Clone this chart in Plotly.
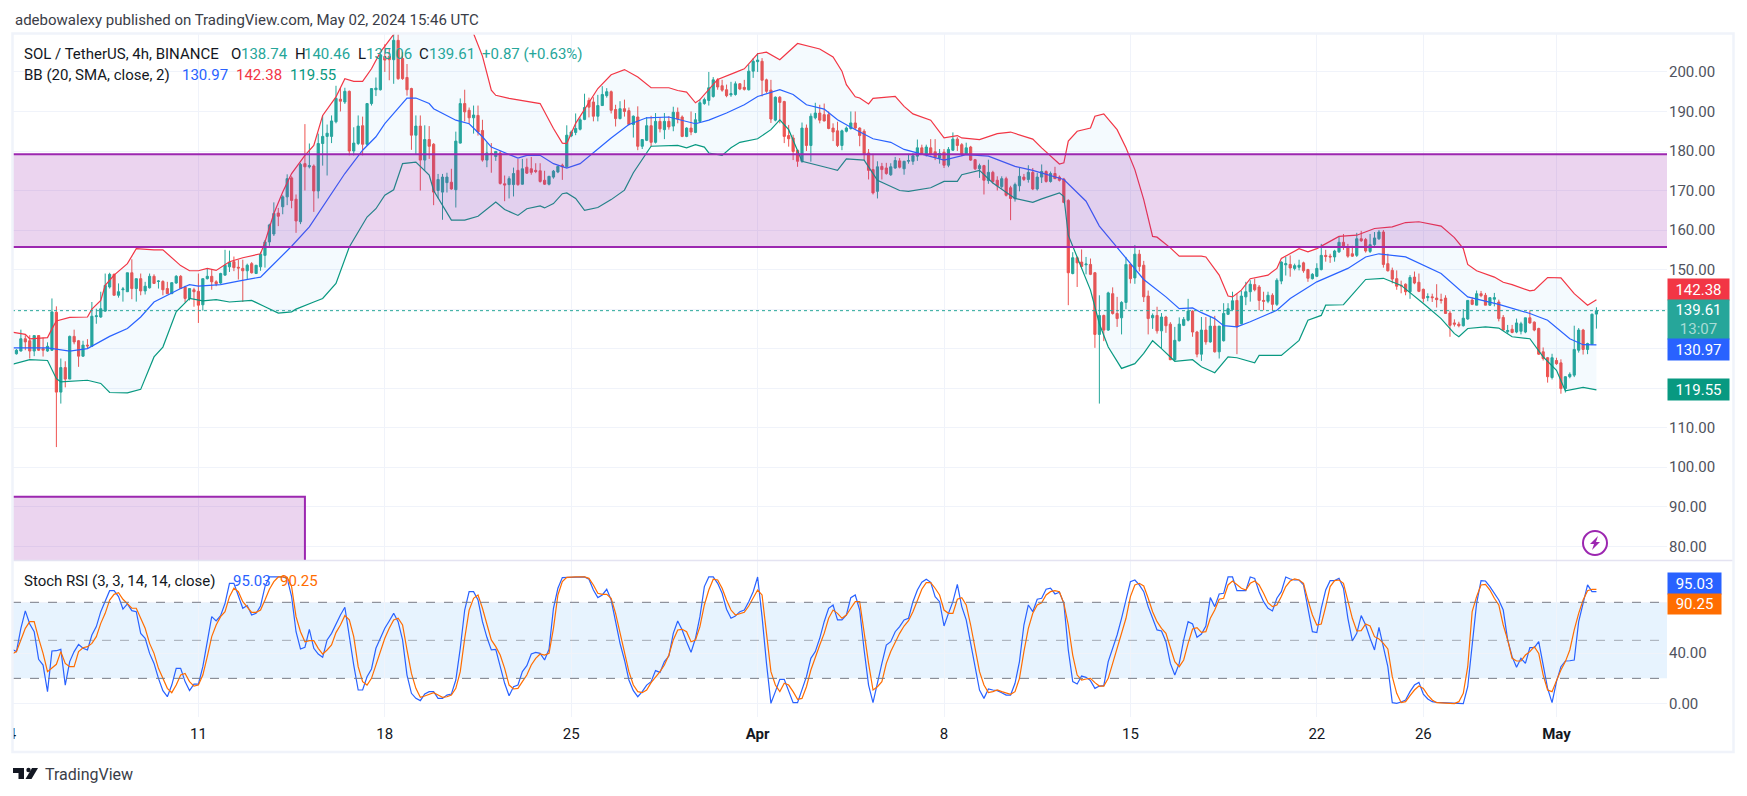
import pandas as pd
import plotly.graph_objects as go

opens = [130,128.7,129.4,132.5,132,129.4,133.3,130,129.4,129.6,
139.2,119,125.2,122.3,133.1,132,128.1,130.9,130.6,138.1,
138,139.5,145.6,148.8,143.5,144.9,144.4,149.2,145.2,147.7,
144.6,145.4,148.3,147,147,145.2,143.9,146.6,148.3,145.6,
142.7,144.9,144.5,141.1,147.7,148.3,146.9,146.6,148.6,150.7,
152,150.6,150.3,149.7,151.5,149,150.7,153.6,157,159,
164.3,165.9,168.4,173.2,167.8,162.1,176.8,176,176.2,169.9,
181.9,183.7,183.7,187.4,193.1,192.4,195.1,180,181.9,186.4,
181.7,192,195.5,195.5,203.9,203.9,203.1,208,203.4,198.6,
195.8,184,186.3,177.7,182.9,181.7,170,169.6,172,172.1,
170.2,182,192,190.3,188.4,189,185.2,177.7,179.4,178.6,
179.5,171.7,171.5,171.5,175.1,171.6,175.9,175.5,175.1,175,
172.6,171.6,173.4,174.7,176.4,176,183.8,184.7,185.5,188,
192.8,192.4,188.8,191.5,194,195,190.5,188.2,190.7,190.2,
186.7,188.6,181.2,182.7,186.4,182.2,187.5,185.4,187.5,186.3,
189.8,188.6,183.7,185.8,184.7,187.5,192,192.8,193.8,198,
196.5,195.5,194.2,194.3,197,196.1,195.5,200.2,202.6,202.7,
198,195.4,187.8,193.6,192.5,183.9,183.3,180.2,177.4,185.8,
181.4,188.4,189.6,189.2,189.2,185.8,185.1,181.4,185,185.7,
187.1,185.8,185,179.5,175.3,169.8,176.1,175.7,174,175.7,
177.5,175.5,177.4,177.4,178.7,180.8,179.1,180.8,179.8,178.2,
179.7,176.4,180.2,183,181.6,179.3,181,177.8,175.5,176.3,
172.5,174.6,172.6,171,173,170.7,167.9,171.2,173.4,172.8,
174.6,170.4,173.4,174.8,172.3,174.3,173.4,172.9,167.5,149,
153,151.9,151.2,151.3,149.2,133.6,138.4,134.7,143.9,138.9,
137.8,141.7,151.3,147.9,153.9,151.1,143.3,137.8,138.4,134.5,
138,136.2,127.2,132,135.9,137.2,139.5,134.2,128.6,134.7,
131.7,135.7,129.2,132,138.7,139.9,142.2,136.3,143.1,144.4,
146.2,145.6,142.2,142,143.5,141.2,147.1,151.2,151.3,150.3,
150.6,151.7,150,147.7,148.3,150,153.6,153.4,153.2,154.5,
156.9,155.6,154,153.6,157.8,157.6,154.6,156.3,157.8,159.5,
151.5,149.8,147.7,146,146.3,144.4,148.1,146.8,145,142.9,
143.1,142.8,142.4,142.8,139,136.5,136.2,135.8,137.5,142.3,
141,143.9,143.5,141,142.5,141.8,137.9,134.3,134.9,134.2,
134.4,134.2,137.8,136.7,135.1,129.2,127.7,122.7,127,126.4,
119.9,122.9,123.3,129.6,134.7,129.8,131.1,138.74]

highs = [130.5,129.9,134.8,133.4,133.4,133.3,133.4,132.8,131.6,142.7,
140.7,127.5,126.8,133.3,134.8,132.2,132,132.4,141.8,140.1,
144.4,149,149.2,149,146.5,145.6,149.2,152.6,147.7,149,
146.9,149,148.8,147.3,147.3,146.9,146.7,148.6,148.6,145.9,
145.2,145.4,149,147.7,150.3,150.1,147.3,149.2,155,154.8,
153.3,152.5,152.5,151.5,151.9,151.1,154.5,157.5,161.6,167,
165.6,168.8,174.1,173.6,169,177,186.8,181.9,176.6,184.4,
189,186.7,189,196.5,196,196,195.3,186,189,188.7,
192.1,195.9,198.6,204.6,207,206,209.6,209.8,205,202,
196,189,189,186.5,186.3,182,174.2,174.2,174.5,175.5,
184.9,193.3,195.5,191,191.5,191.5,187.9,182.2,182,180,
180,173.8,173.6,175.8,178,178,178.1,178.5,176.9,176.9,
175,173.7,175.2,176.3,176.8,186.5,185.2,189.5,188.5,194.5,
193.5,193.6,194.2,196.4,195.9,195.3,191.7,192.6,193,191,
189,191.3,183,188.6,188.9,189.6,188.6,189.6,188.8,191.2,
191,189,186,190,189.6,193.1,193.5,200,198.7,198.4,
198,196.8,197.5,197.6,197.2,198,201.9,203.5,204.8,203.5,
198.3,198,193.8,193.9,192.7,186.6,184.1,180.3,187.2,186.7,
189.5,192.2,191.7,192,190,187,187.4,185.4,186.2,190,
190,186,185.5,180.5,179.3,177.4,177,177,176.9,178.5,
178.2,177.5,179,179.5,182.9,181.6,181.6,183,183,180.5,
180.5,181,184.7,183.5,182,182.1,181.3,178,176.8,176.5,
177.8,175,173.6,173.6,173.5,171.2,172,175.7,174.2,176.4,
175.7,174.5,176.6,175.1,174.8,176,173.8,173.2,167.8,154.4,
153.3,155.1,153.2,152.8,149.4,143.5,138.6,144.4,145.5,143.1,
142,153.2,151.6,156.2,155,152.2,144.7,138.9,140.6,139,
138.3,136.7,135.5,137.9,138,142.6,139.7,134.5,138,138,
138,138.3,135.7,141.5,141.5,144.4,143.9,144.6,146.9,147.3,
147.7,146.1,144.4,144.4,144,147.8,152.1,153.2,153.6,151.5,
152.5,152,150.2,149.1,151.6,156.5,155,154,155,158.4,
159,156.5,156,159.3,159.8,158,159,159.5,160,160,
154,150.5,149.8,147.2,146.5,148.6,149.5,149,145.2,144,
143.9,146.3,143.9,143.5,139.6,137.4,136.8,140,142.3,143,
144.7,144.6,144.1,142.9,144.1,142.4,138.5,136,136,137.6,
136.8,137.8,139.7,136.9,135.3,130.3,127.9,128.7,127.7,127.3,
123,124,135.8,135.2,135,131.5,138.9,140.46]

lows = [129,128.5,129.3,129.6,127.5,128.1,129.4,128,129.2,129.4,
105.1,116.1,120.2,122.3,131.1,125.4,127.9,130,130.4,136.3,
137.8,139.3,145.2,143.5,142.9,141.9,144.4,142.5,141.9,143.5,
143.7,145.2,146.4,145.2,143.5,143.9,143.9,146.4,145.2,141.7,
142.2,140.6,136.5,139.6,147.5,144.9,145.8,146.4,148.4,149.4,
149.6,147.5,141.8,147.5,149,148.9,149.7,150.5,156,158.5,
161,164,166.3,165.5,159.3,161.5,170,175.6,164.6,168,
176.3,173.8,182,187,190,191.9,178.9,178.9,181.5,178.9,
181.3,191.5,193.9,195.3,200,197.9,197,198,198,194,
180.3,179,170,175,178,166.3,168,162.6,169.5,170.2,
165.7,181.9,187.5,186.9,184.4,183.9,177.3,175.9,174.5,177.5,
171.5,167.3,168,168.5,171.2,171.5,174.2,174,174.4,172,
171.4,171.3,173,174.4,172.7,175.8,183.5,184,185.2,187.8,
188.5,187.5,187.5,191.5,193.5,189.5,186.2,188,188.7,186.5,
183.4,180.2,180.5,182.5,181.2,181.9,184.7,183,185.4,185,
187,183.5,183.5,184,184.5,187.2,191.7,191.5,193.5,195.5,
195,193.6,193.7,194,195.4,195.3,195.3,198.5,200,193.8,
194.7,187.1,187.5,187,182,181.1,177.7,176,177,180,
177.3,188,187,187.5,185.5,182.5,181,180.2,184.7,185.4,
185.5,181.2,177.7,172.8,169,168,172.8,174,173.7,175.5,
175.6,174,176.8,176.5,177.5,179,178.6,178.9,177.7,176.8,
175.7,175.9,180,180,178.7,179,177.5,175.2,173.2,169,
171.7,171.8,170,170.5,168.5,162.5,167.2,169.8,172.4,172,
170.1,170,171.9,172,172,172.9,172.3,166.8,141,148.8,
145.6,150.6,148.8,148.6,130.2,116.1,131.9,134.5,138.6,135.5,
133.6,140,146.5,146.4,149.5,141.8,133.6,135,133.8,130,
134,127.1,126.9,131.8,135.7,136.9,133,127.8,126.9,131,
131.5,129,127.5,131.8,138.5,139.7,128.6,136.1,141,141.9,
144.5,139.7,139.7,141.5,139.6,140.8,146.3,148.5,148.2,149.8,
149.8,149.2,146.9,147.5,148.1,149.8,152,151.7,152,154.2,
155,153,153.2,153.2,157,154.3,154.2,156,157.5,150.5,
149.5,146.5,144.9,144,143.5,142.6,146.3,144.3,141.7,142,
141.8,140.4,141.4,138.8,133,135.6,135.4,135.6,137.3,141,
141,143,141,140.8,140.7,136.9,134.5,133.8,133.9,133.9,
133.6,133.9,136.3,134.4,128.4,127,121.4,122.2,125.9,118.6,
118.9,122.5,122.8,129,128.5,128.6,130.9,135.06]

closes = [129.6,129.6,132.5,131.7,129.4,133.3,129.6,129.6,130.6,139.3,
119,125.2,122.3,133.1,131.7,128.1,130.9,130.7,138.2,138.3,
140.1,146,148.8,143.5,144.4,145.1,149.2,145.2,147.7,144.6,
145.8,148.3,146.5,147.1,144.9,143.9,146.7,148.3,145.2,142.7,
145.2,144.4,141,147.7,148.3,146.9,146.4,149,151.1,151.8,
150.5,150.4,149.7,151.1,149.2,151.1,153.9,157,161.3,164.2,
163.5,168.4,173,167.5,162.3,176.6,176,176.3,169.9,181.9,
183.7,184.5,187.6,193.3,192.6,195.1,180,182,186.3,181.7,
192,195.8,195.9,204.2,203,203.1,208,198.3,198.3,195.5,
184,186.3,177.7,182.9,181.2,169.6,172.8,173.4,173.4,170.4,
182.5,192,189.9,188.4,189.1,184.8,177.7,179.5,179.2,179.9,
171.8,171.4,173,174.3,171.5,175.5,174.4,174.6,174.8,172.3,
171.6,173.6,174.9,176.1,176,184,184.8,185.7,187.9,191,
191.1,188.8,191.5,194.3,195,190.3,188.2,190.7,190,186.7,
188.8,181.2,182.9,186.4,182.2,187.5,185.6,187.5,186.1,189.8,
188.1,183.7,185.8,184.8,187.9,192.2,193,196,198,196.2,
195.4,194,194.5,197,195.7,195.6,200.2,202.7,203,197.9,
195.1,188.1,193.6,192.3,183.7,183.1,179.9,177.4,185.8,181.4,
188.8,189.6,187.8,187.6,185.7,184.8,181.4,185.1,185.8,187.1,
185.8,183.9,179.3,175.1,169.4,176,175.3,174.3,176,177.6,
175.9,177.4,177.6,178.8,180.8,179.3,181,179.1,178.4,179.4,
176.4,180.4,183,181.4,179.1,180.8,177.7,175.5,176.3,172.6,
174.6,172.3,171.2,173,168.8,168,171.5,173.6,172.8,174.6,
170.4,173.4,174.8,172.3,174.3,173,172.6,167,149.2,153,
151.7,150.8,151.4,148.8,133.6,138.4,134.7,144.1,138.9,137.6,
141.7,151.3,147.7,153.9,150.8,143.1,137.6,138.4,134.5,138,
135.8,127.2,132.1,136.2,137.4,139.5,134.2,128.6,134.7,131.7,
135.7,129.2,135.7,138.9,140.1,142.1,135.5,143.3,144.4,146.3,
144.9,142.2,142,143.5,141.2,147.3,151.9,151.5,150.4,151,
151.1,149.7,147.8,148.8,150.3,153.6,153.3,153.2,154.7,156.9,
155.6,153.4,153.4,157.8,157.3,154.7,156.3,158,159.5,151.3,
149.7,147.6,145.8,145.9,144.4,148,146.6,144.5,142.7,143.2,
142.9,142.4,142.2,138.9,135.9,136.2,135.8,137.7,142.2,141.2,
143.9,143.4,141,142.9,142.9,137.6,134.7,134.6,134.1,136.5,
136.3,137.8,136.5,134.7,128.6,127.5,122.9,127.7,126.2,119.9,
122.9,123.5,129.8,134.7,129.8,131.3,138.7,139.61]

upper_bar = [0,3,4,8,9,10,13,17,18,20,21,23,26,28,32,34,38,40,42,44,46,49,52,56,57,59,61,63,66,68,70,73,75,77,79,81,83,86,87,90,95,100,104,106,108,109,112,119,122,124,125,127,130,132,
135,138,141,144,148,150,152,154,155,159,163,165,168,170,173,177,182,185,187,188,190,191,193,194,199,201,203,207,210,213,214,218,222,225,230,232,236,237,238,240,243,244,246,249,251,253,255,257,258,261,263,268,
269,272,274,275,277,279,283,285,286,290,292,294,299,303,307,311,314,317,322,325,327,328,330,334,336,338,342,343,346,349,352,355,357]
upper_band = [134.2,133.6,132.5,132.8,135,137,137.9,138,140,142.2,146,148.6,151.5,155.3,155,155,151,149.7,149.7,150.3,149.8,152,153,154,157,164.2,169.6,174.3,178.9,181.4,189,193.7,198.3,197.6,197.6,200.8,205,209.7,211,214,216,214,209.7,204,195.4,194.1,193.3,192,185.7,182,181.9,187,192.4,195.8,
199.3,200.6,198.7,196,196,195.3,194.9,192.2,193,198.1,199.9,200.8,204.6,205,203.1,207.2,205.8,203.8,200.2,196.8,193.7,193.4,191.9,193.3,193.8,191.3,189.4,187.8,183.3,183.9,183.3,182.9,184.4,184.8,183,180.8,176.7,177,182.5,185,185.8,188.8,189.4,185.4,180.8,175.3,167.7,158.4,158.2,155.5,153.4,153.4,
153.2,148.6,143.3,143.1,144.8,147.7,148.6,150.3,152.8,155.3,154.5,155.3,158.4,158.7,160.4,160.8,161.9,162.1,161,158.1,155.3,151.3,149.7,148.1,146.8,146.2,144.6,144.8,148,147.9,143.9,141,142.38]

middle_bar = [0,8,13,17,22,26,29,32,38,40,42,47,51,56,57,62,63,67,70,75,79,82,84,89,91,94,95,100,103,106,108,114,116,119,122,125,128,132,
135,139,143,148,154,157,161,165,168,173,176,179,183,186,189,194,198,201,207,210,215,220,226,230,237,242,245,249,255,260,263,266,
268,271,273,276,279,285,288,294,301,305,308,314,322,328,335,342,346,351,354,357]
middle_band = [130.2,130.2,129.4,130,133.1,135.1,138,141.8,145.2,146.2,145.8,146.2,147.1,148.1,149.2,154.9,155.9,160.8,165.9,174.3,180.2,183.6,186.9,193.4,193.4,192,190.7,187.8,186.9,183.6,181,178.2,178.9,178.9,176.8,175.7,176.8,180.6,
183.3,186.7,188.4,188.6,186.9,187.8,189.6,191.7,193.8,195.5,194.3,191.7,190.6,187.9,186,183.1,182.2,180.4,178.7,177.7,179.1,178.7,176.1,175.1,172.8,167.3,161,155.5,147.5,143.1,140.1,140.3,
139.1,137.6,135.8,135.5,136.8,139.7,142.7,146.9,150.3,153.2,154,153.2,149,143.1,141.2,138.9,137.2,132.5,131,130.97]

lower_bar = [0,4,8,10,11,17,20,22,26,29,32,34,37,40,43,46,49,54,57,60,63,64,68,70,73,74,76,80,82,84,86,88,91,94,95,99,102,105,109,111,114,116,119,120,122,124,125,127,129,132,
135,138,140,144,150,152,154,156,157,160,162,164,168,171,173,175,178,184,186,188,192,195,200,202,207,210,213,214,218,221,226,230,232,236,237,238,241,243,245,247,250,253,255,257,259,262,266,268,
271,274,276,280,281,286,290,292,295,296,300,305,309,313,318,322,325,326,328,332,335,338,342,345,348,350,354,357]
lower_band = [126,127.2,127,122.4,121.6,122,121.2,118.9,118.8,119.7,127.9,130.4,139.3,142.7,142.1,142.4,141.8,142.2,140.6,139,139.3,140,141.8,142.7,146.5,149.4,155.7,163.3,165.4,168.8,170.2,176.8,177.2,173.9,170,162.5,162.5,163.5,167.1,165.2,163.7,165.4,166.1,165.6,166.7,169.2,169.4,168,165,165.7,
167.7,170.1,174.5,181.2,181.4,180.8,181.6,181,179.5,178.9,180.8,182.2,183.1,185.4,187.9,185.4,177.4,175.7,175.1,178,177.7,172.6,170,169.8,170.7,172.3,172.3,174,175.1,171.9,168,167,167.9,169.4,168.5,158.7,150.3,144.8,136.3,130.4,125,126.2,128.8,132,130,126.8,127.2,125.4,
123.9,127.9,127.7,126.4,128.3,128.3,132.1,137.2,138.4,141,141.1,147.5,147.8,146,141.4,137.6,133.8,133,135.1,135.5,135.2,133,132.5,127.9,124.5,119.3,120.2,119.55]

stoch_k = [42.9,41.1,59.5,73.2,62.9,56.8,35,30.5,9.5,41.6,41.8,42.9,14.7,33.2,41.1,46.8,43.7,42.4,54.2,60.8,72.6,80.5,89.2,89.2,84.5,74.7,78.7,73.4,72.6,55.5,51.6,39.7,31.8,20,10.3,5.5,14.7,27.9,27.9,17.4,10.3,15.5,15.5,29.2,47.6,68.7,65.3,69.5,79.2,95,95,85.8,75.3,77.4,70,71.3,77.1,92.4,100,100,100,100,98.9,84.5,56.8,43.2,44.5,58.7,43.7,39.2,36.6,50.3,55.5,63.4,70,76.1,52.9,30.5,10.8,10.8,21.3,27.4,43.7,51.6,59.5,65.3,71.3,64.7,50.3,22.6,8.2,4.2,2.4,7.6,9.5,9.5,4.2,4.2,6.8,7.6,18.7,43.7,73.9,88.4,88.4,81.8,64.7,52.4,42.4,42.9,30.5,16.1,6.3,13.4,14.7,25.3,30,39.2,40.5,39.7,34.5,42.9,75.3,91.1,99.5,99.7,99.7,100,100,100,98.2,89.7,83.7,
85.8,90.3,81.8,64.7,47.6,34.5,18.7,10.3,5.5,9.5,14.7,17.4,26.1,24.7,33.2,37.6,55.5,65.3,58.2,48.9,40.5,51.6,68.7,92.4,100,100,95,87.1,74.5,67.4,69.2,72.6,73.9,80.5,88.4,100,68.7,31.8,0.3,9.5,19.2,19.2,9.5,0.8,0.8,10.8,21.3,35.8,41.1,51.6,64.7,75.3,77.9,66.1,66.1,70,83.7,85.8,73.9,42.4,14.7,0.8,17.4,31.8,46.3,48.9,56.8,60.8,66.1,67.4,80.5,89.7,95.8,98.2,95.8,84.5,80.5,61.3,71.3,80.5,94.2,76.6,66.1,47.6,29.2,10.8,4.2,11.6,10.8,10.3,8.7,6.8,6.8,16.1,33.2,62.1,77.9,72.6,82.4,83.2,90.3,91.1,86.6,87.9,79.2,42.4,17.4,15.5,21.8,20.8,18.2,12.1,13.9,14.2,33.2,43.7,54.2,67.4,81.8,96.3,97.6,93.7,88.4,76.6,67.4,58.2,57.4,48.9,31.8,22.6,31.8,50.3,64.7,62.9,52.4,
55,61.3,83.7,76.6,86.6,87.1,100,100,89.2,89.2,89.2,100,98.9,88.4,80.5,75.3,73.2,83.2,88.4,100,98.4,97.6,97.6,93.7,73.9,56.8,56.1,75.3,89.7,97.1,97.1,98.9,91.1,67.4,49.5,55.5,69.5,62.1,51.6,42.4,60.3,45,29.2,0.8,0.3,1.3,2.9,9.5,14.7,16.8,7.6,3.7,1.6,1,0.8,0.5,0.2,0,0,0,13.4,45,79.2,97.1,96.8,92.4,87.1,81.8,73.9,50.3,37.1,28.7,35.8,31.8,44.2,44.2,48.9,30.5,12.1,0.8,17.4,29.2,33.7,33.9,34.5,64.7,80.5,93.7,88.4,88.4,95.03]

stoch_d = [39.2,41.1,50.3,59.5,64.7,64.7,51.6,39.7,25.3,27.9,31.1,41.1,31.8,29.2,29.2,41.1,44.2,45,47.6,52.9,63.4,71.3,81.8,86.3,87.6,82.4,79.2,75.3,75.3,67.4,59.5,47.6,39.7,27.9,20,12.1,8.7,14.7,22.6,23.9,17.4,13.9,14.7,22.6,37.1,52.9,62.1,68.7,72.6,84.5,91.1,88.4,80.5,76.6,72.1,72.1,73.9,81.8,90.3,96.3,100,100,99.7,92.4,68.7,56.8,48.9,49.7,49.7,43.7,39.2,42.4,46.3,56.1,62.1,69.5,66.1,52.9,29.2,17.4,14.7,20,30.5,39.7,51.6,59.5,66.1,67.4,62.1,42.4,23.9,12.1,5,6.1,7.6,8.7,6.8,5,5.5,6.8,12.1,25.3,51.6,73.9,83.2,85.8,75.3,63.4,50.3,45,38.4,27.9,14.7,11.6,12.1,17.4,22.6,30.5,35.8,39.2,38.4,39.7,59.5,85.8,96.3,99.7,100,100,100,100,98.9,93.7,87.1,
86.3,86.3,83.2,71.3,55.5,39.7,25.3,14.7,9.5,8.7,10.8,16.6,20.8,25.3,30.5,38.4,50.3,58.2,58.7,56.8,48.9,50.3,60.8,77.9,89.7,98.2,97.6,91.1,81.8,73.9,70,70.8,72.1,77.1,83.2,89.7,85.8,54.2,25.3,14.7,9.5,16.1,14.7,9.5,3.4,4.2,13.4,26.6,37.1,46.3,55.5,67.4,73.9,71.3,67.4,70,75.3,80.5,80.5,54.2,31.8,10.8,13.4,17.4,31.8,41.1,48.9,55.5,61.3,65.5,72.6,81.8,90.3,95.5,95.5,91.1,85.8,73.9,71.3,71.3,82.4,83.7,77.9,62.1,42.4,25.3,14.7,8.7,9.5,10.8,9.5,8.2,7.4,9.5,20,41.1,59.5,71.3,77.9,79.7,85.8,88.4,89.2,88.4,79.2,62.1,38.4,22.6,18.7,19.5,20,16.6,13.9,13.9,20,31.8,43.7,54.2,67.4,84.5,93.7,95,92.9,83.2,72.6,64.7,59.5,55.5,43.7,33.2,29.2,34.5,47.6,58.9,60,
56.3,56.8,67.4,73.9,82.4,83.2,93.7,96.8,93.7,91.1,89.7,95,96.8,93.7,87.1,79.7,76.6,77.9,84.5,92.4,96.8,98.4,97.6,95,81.8,70,62.1,62.9,76.6,92.4,97.1,97.6,95,81.8,67.4,57.4,57.6,62.9,61.3,52.9,51.1,47.6,43.2,21.3,8.2,0.8,1.6,6.3,10.8,13.9,12.1,6.8,2.9,0.8,0.5,0.3,0.2,0.1,1.6,8.2,29.2,72.6,84.5,93.7,94.2,89.7,83.2,77.9,62.1,50.3,35.8,33.7,33.7,38.4,41.1,45,39.7,22.6,10.8,9.5,18.2,26.6,33.2,42.4,58.2,71.3,81.8,89.2,90.3,90.25]

date_labels = ["2024-03-04","2024-03-11","2024-03-18","2024-03-25","2024-04-01","2024-04-08","2024-04-15","2024-04-22","2024-04-26","2024-05-01"]
tick_labels = ["4","11","18","25","<b>Apr</b>","8","15","22","26","<b>May</b>"]
price_ticks = [80,90,100,110,120,130,140,150,160,170,180,190,200]
price_labels = ["80.00","90.00","100.00","110.00","","","","150.00","160.00","170.00","180.00","190.00","200.00"]
stoch_ticks = [0,40,80]
stoch_labels = ["0.00","40.00",""]

last_close, bb_mid, bb_up, bb_low = 139.61, 130.97, 142.38, 119.55
k_last, d_last = 95.03, 90.25
zone_low, zone_high = 155.7, 179.2
zone2_high, zone2_end = 92.5, "2024-03-15 00:00"

W, H = 1747, 796
L, R, T, B = 12, 1667, 34, 717
MAIN_BOTTOM, PANE_TOP = 560, 561
FONT = "Roboto"
GREEN, RED, BLUE, ORANGE, BBG = "#26a69a", "#ef5350", "#2962ff", "#ff6d00", "#089981"
GRID = "#f0f3fa"
PURPLE = "#9c27b0"
ZONE_FILL = "rgba(156,39,176,0.2)"

def px(x): return (x - L) / (R - L)
def py(y): return (B - y) / (B - T)

dates = pd.date_range(end="2024-05-02 12:00", periods=len(closes), freq="4h")
def at(idx): return [dates[i] for i in idx]

fig = go.Figure()
fig.add_trace(go.Scatter(x=at(upper_bar) + at(lower_bar)[::-1], y=upper_band + lower_band[::-1],
                         fill="toself", mode="none", fillcolor="rgba(33,150,243,0.05)", hoverinfo="skip"))
fig.add_trace(go.Candlestick(x=dates, open=opens, high=highs, low=lows, close=closes, whiskerwidth=0,
    increasing=dict(line=dict(color=GREEN, width=1), fillcolor=GREEN),
    decreasing=dict(line=dict(color=RED, width=1), fillcolor=RED)))
fig.add_trace(go.Scatter(x=at(upper_bar), y=upper_band, mode="lines", line=dict(color="#f23645", width=1.2)))
fig.add_trace(go.Scatter(x=at(middle_bar), y=middle_band, mode="lines", line=dict(color=BLUE, width=1.2)))
fig.add_trace(go.Scatter(x=at(lower_bar), y=lower_band, mode="lines", line=dict(color=BBG, width=1.2)))
fig.add_trace(go.Scatter(x=dates[-len(stoch_k):], y=stoch_k, mode="lines", xaxis="x2", yaxis="y2", line=dict(color=BLUE, width=1.2)))
fig.add_trace(go.Scatter(x=dates[-len(stoch_d):], y=stoch_d, mode="lines", xaxis="x2", yaxis="y2", line=dict(color=ORANGE, width=1.2)))

shapes = []
def rect(**kw): shapes.append(dict(type="rect", **kw))
def line(**kw): shapes.append(dict(type="line", **kw))

rect(xref="x domain", x0=0, x1=1, yref="y", y0=zone_low, y1=zone_high, fillcolor=ZONE_FILL, line_width=0, layer="above")
for lvl in (zone_low, zone_high):
    line(xref="x domain", x0=0, x1=1, yref="y", y0=lvl, y1=lvl, line=dict(color=PURPLE, width=2), layer="above")
rect(xref="x", x0="2024-03-01", x1=zone2_end, yref="y", y0=70, y1=zone2_high,
     fillcolor=ZONE_FILL, line=dict(color=PURPLE, width=2), layer="above")
line(xref="x domain", x0=0, x1=1, yref="y", y0=last_close, y1=last_close, line=dict(color=GREEN, width=1, dash="dot"))
rect(xref="x domain", x0=0, x1=1, yref="y2", y0=20, y1=80, fillcolor="rgba(33,150,243,0.11)", line_width=0, layer="below")
line(xref="x domain", x0=0, x1=1, yref="y2", y0=80, y1=80, line=dict(color="#787b86", width=1, dash="dash"))
line(xref="x domain", x0=0, x1=1, yref="y2", y0=50, y1=50, line=dict(color="rgba(120,123,134,0.6)", width=1, dash="dash"))
line(xref="x domain", x0=0, x1=1, yref="y2", y0=20, y1=20, line=dict(color="#787b86", width=1, dash="dash"))
# pane divider, outer frame, edge cover for the clipped first tick label
line(xref="paper", yref="paper", x0=0, x1=px(1734), y0=py(560.5), y1=py(560.5), line=dict(color="#e4e3f1", width=1.5), layer="above")
rect(xref="paper", yref="paper", x0=px(0), x1=px(12), y0=py(752), y1=py(720), fillcolor="white", line_width=0, layer="above")
rect(xref="paper", yref="paper", x0=px(12.5), x1=px(1733.5), y0=py(752), y1=py(33.5), fillcolor="rgba(0,0,0,0)", line=dict(color=GRID, width=2.5), layer="above")
# flash icon
shapes.append(dict(type="circle", xref="paper", yref="paper", xsizemode="pixel", ysizemode="pixel",
                   xanchor=px(1595), yanchor=py(543), x0=-12, x1=12, y0=-12, y1=12,
                   line=dict(color=PURPLE, width=2), fillcolor="white", layer="above"))
shapes.append(dict(type="path", xref="paper", yref="paper", xsizemode="pixel", ysizemode="pixel",
                   xanchor=px(1595), yanchor=py(543), path="M 3,7 L -5,-1 L -1,-1 L -3,-7 L 5,1 L 1,1 Z",
                   fillcolor=PURPLE, line_width=0, layer="above"))
# TradingView logo
for p in ("M 0,11 L 11,11 L 11,0 L 5.5,0 L 5.5,6 L 0,6 Z", "M 19,11 L 25,11 L 18.5,0 L 12.5,0 Z"):
    shapes.append(dict(type="path", xref="paper", yref="paper", xsizemode="pixel", ysizemode="pixel",
                       xanchor=px(13), yanchor=py(779), path=p, fillcolor="#131722", line_width=0))
shapes.append(dict(type="circle", xref="paper", yref="paper", xsizemode="pixel", ysizemode="pixel",
                   xanchor=px(28.5), yanchor=py(770), x0=-2.2, x1=2.2, y0=-2.2, y1=2.2, fillcolor="#131722", line_width=0))

ann = []
def label(x, y, text, color="#131722", size=15, **kw):
    ann.append(dict(xref="paper", yref="paper", x=px(x), y=py(y), text=text, showarrow=False, xanchor="left", yanchor="middle",
                    font=dict(family=FONT, size=size, color=color), **kw))

label(13, 20, "adebowalexy published on TradingView.com, May 02, 2024 15:46 UTC", color="#3a3d47")
label(43, 774, "TradingView", color="#3a3d47", size=16)
label(22, 53.5, "SOL / TetherUS, 4h, BINANCE")
for x, t in [(228.5, "O"), (293, "H"), (356, "L"), (417, "C")]:
    label(x, 53.5, t)
for x, t in [(238.5, f"{opens[-1]:.2f}"), (302, f"{highs[-1]:.2f}"), (364, f"{lows[-1]:.2f}"), (426.5, f"{closes[-1]:.2f}"), (479.5, "+0.87 (+0.63%)")]:
    label(x, 53.5, t, color=GREEN)
label(22, 75, "BB (20, SMA, close, 2)")
label(180, 75, f"{bb_mid:.2f}", color=BLUE)
label(233.5, 75, f"{bb_up:.2f}", color="#f23645")
label(288, 75, f"{bb_low:.2f}", color=BBG)
label(22, 581, "Stoch RSI (3, 3, 14, 14, close)")
label(231, 581, f"{k_last:.2f}", color=BLUE)
label(277.5, 581, f"{d_last:.2f}", color=ORANGE)

def badge(yref, val, text, bg, w, h, yshift=0):
    ann.append(dict(xref="paper", yref=yref, x=1, y=val, xanchor="left", yanchor="middle", yshift=yshift,
                    text=text, showarrow=False, bgcolor=bg, width=w, height=h, align="center", borderpad=0,
                    font=dict(family=FONT, size=15, color="white")))

badge("y", bb_up, f"{bb_up:.2f}", "#f23645", 61, 21, yshift=10)
badge("y", last_close, f"{last_close:.2f}<br><span style='color:#a8dcd6'>13:07</span>", GREEN, 61, 39, yshift=-9)
badge("y", bb_mid, f"{bb_mid:.2f}", BLUE, 61, 21, yshift=-5)
badge("y", bb_low, f"{bb_low:.2f}", BBG, 61, 21, yshift=0)
badge("y2", k_last, f"{k_last:.2f}", BLUE, 53, 21, yshift=0)
badge("y2", d_last, f"{d_last:.2f}", ORANGE, 53, 20, yshift=-14.5)

xax = dict(type="date", range=["2024-03-04 00:00", "2024-05-05 03:36"], tickvals=date_labels, ticktext=tick_labels,
           showgrid=True, gridcolor=GRID, gridwidth=1, zeroline=False, showline=False, ticks="",
           rangeslider=dict(visible=False), tickfont=dict(family=FONT, size=15, color="#131722"), ticklabelstandoff=6)

fig.update_layout(
    width=W, height=H, margin=dict(l=L, r=W - R, t=T, b=H - B, autoexpand=False),
    paper_bgcolor="white", plot_bgcolor="white", showlegend=False, hovermode=False,
    xaxis=dict(xax, anchor="y", showticklabels=False),
    xaxis2=dict(xax, anchor="y2", matches="x"),
    yaxis=dict(domain=[py(MAIN_BOTTOM), 1], side="right", range=[76.53, 209.6], tickvals=price_ticks, ticktext=price_labels,
               showgrid=True, gridcolor=GRID, zeroline=False, showline=False, ticks="", ticklabelstandoff=1,
               tickfont=dict(family=FONT, size=15, color="#50535e"), anchor="x"),
    yaxis2=dict(domain=[0, py(PANE_TOP)], side="right", range=[-10.5, 112.6], tickvals=stoch_ticks, ticktext=stoch_labels,
                showgrid=True, gridcolor=GRID, zeroline=False, showline=False, ticks="", ticklabelstandoff=1,
                tickfont=dict(family=FONT, size=15, color="#50535e"), anchor="x2"),
    shapes=shapes, annotations=ann,
)
fig.write_html("out.html", config=dict(displayModeBar=False),
               post_script="document.body.style.margin='0';document.documentElement.style.overflow='hidden';")
